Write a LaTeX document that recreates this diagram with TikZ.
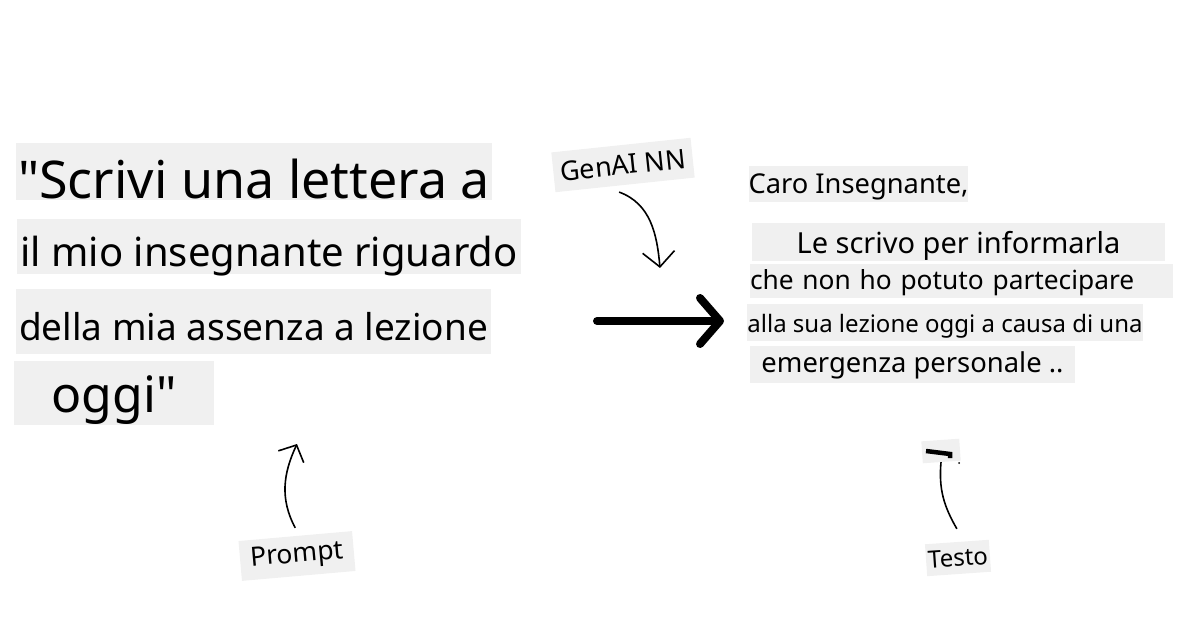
\documentclass[tikz,border=0pt]{standalone}
\usepackage{fontspec}
\setmainfont{Noto Sans}
\usetikzlibrary{arrows.meta}
\definecolor{stripgray}{HTML}{F0F0F0}

\begin{document}
\begin{tikzpicture}[x=1pt,y=-1pt,
    strip/.style={fill=stripgray,inner sep=0pt,anchor=base},
    tag/.style={fill=stripgray,inner sep=0pt},
    hand/.style={line width=1.6pt,-{Straight Barb[length=13pt,width=28pt]}},
  ]
  \useasboundingbox (0,0) rectangle (1200,628);

  \node[strip,minimum width=476pt,text height=56pt,text depth=1pt,font=\fontsize{52}{52}\selectfont] (P1) at (254,199) {\textquotedbl Scrivi una lettera a};
  \node[strip,minimum width=504pt,text height=48pt,text depth=7pt,font=\fontsize{40}{40}\selectfont] (P2) at (269,267) {il mio insegnante riguardo};
  \node[strip,minimum width=475pt,text height=52pt,text depth=13pt,font=\fontsize{37}{37}\selectfont] (P3) at (253.5,341) {della mia assenza a lezione};
  \node[strip,minimum width=200pt,text height=51pt,text depth=13pt,font=\fontsize{50}{50}\selectfont] (P4) at (114,412) {oggi\textquotedbl};

  \node[strip,minimum width=217pt,text height=28pt,text depth=8pt,font=\fontsize{27.3}{27.3}\selectfont] (R1) at (858.5,194) {Caro Insegnante,};
  \node[strip,minimum width=413pt,text height=31pt,text depth=7pt,font=\fontsize{29}{29}\selectfont] (R2) at (958.5,254) {Le scrivo per informarla};
  \node[strip,align=left,text width=423pt,text height=26pt,text depth=8pt,font=\fontsize{26.3}{26.3}\selectfont] (R3) at (961.5,290) {che non ho potuto partecipare};
  \node[strip,minimum width=390pt,text height=29pt,text depth=8pt,font=\fontsize{24}{24}\selectfont] (R4) at (945,333) {alla sua lezione oggi a causa di una};
  \node[strip,minimum width=325pt,text height=27pt,text depth=10pt,font=\fontsize{27.4}{27.4}\selectfont] (R5) at (912.5,373) {emergenza personale ..};

  \node[tag,rotate=6,minimum width=140pt,minimum height=40pt,font=\fontsize{27}{27}\selectfont] (genai) at (623,165) {GenAI NN};
  \node[tag,rotate=5,minimum width=114pt,minimum height=40pt,font=\fontsize{26.5}{26.5}\selectfont] (prompt) at (297,556) {Prompt};
  \node[tag,rotate=4,minimum width=64pt,minimum height=32pt,font=\fontsize{24}{24}\selectfont] (testo) at (958,558) {Testo};

  \coordinate (genend) at (660,268);
  \coordinate (bigtail) at (597,321);
  \coordinate (bighead) at (724,321);
  \coordinate (prompttip) at (297,444);

  \draw[line width=1.6pt,-{Straight Barb[length=15pt,width=32pt]}] ([xshift=-6pt,yshift=-7pt]genai.south) to[out=-20,in=95] (genend);
  \draw[line width=8pt,line cap=round,-{Straight Barb[round,length=20pt,width=46pt]}] (bigtail) -- (bighead);
  \draw[hand] ([yshift=8pt]prompt.north) to[out=118,in=-115] (prompttip);
  \draw[line width=1.6pt] ([yshift=13pt]testo.north) to[out=120,in=-95] (941,462);

  \node[tag,rotate=4,minimum width=38pt,minimum height=22pt] (testotip) at (941,451) {};
  \draw[line width=4.5pt] (926,451) -- (950,454) -- (950,458);
  \fill (959,463) circle (1pt);
\end{tikzpicture}
\end{document}
